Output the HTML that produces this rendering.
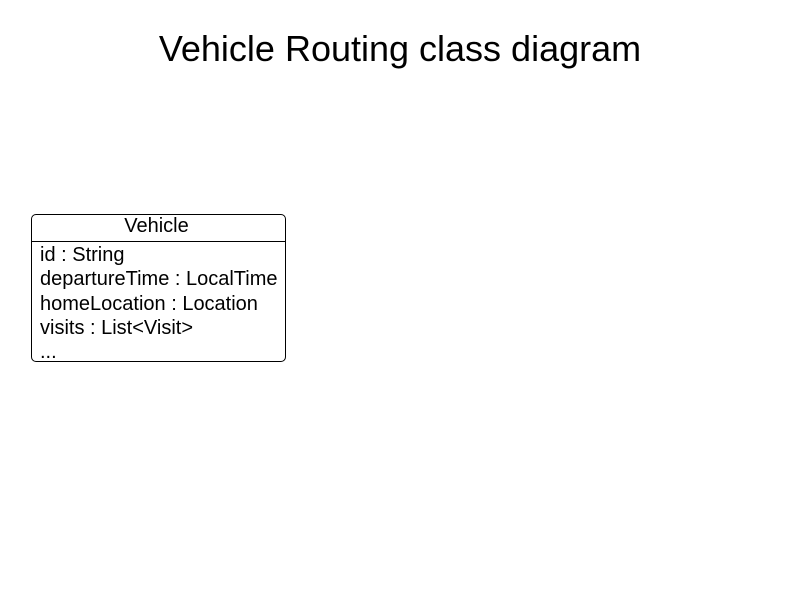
<!DOCTYPE html>
<html><head><style>
body{margin:0;width:800px;height:600px;background:#fff;font-family:"Liberation Sans",sans-serif;position:relative;overflow:hidden}
.t{position:absolute;left:0;width:800px;top:28px;text-align:center;font-size:36px;line-height:42px;color:#000}
.box{position:absolute;left:31px;top:214px;width:253px;height:146px;border:1.3px solid #000;border-radius:5px}
.h{height:27px;border-bottom:1.3px solid #000;text-align:center;font-size:20px;line-height:23px;padding-right:4px;box-sizing:border-box}
.a{padding-left:8px;font-size:20px;line-height:24.3px;padding-top:1px}
</style></head><body>
<div class="t">Vehicle Routing class diagram</div>
<div class="box"><div class="h">Vehicle</div>
<div class="a">id : String<br>departureTime : LocalTime<br>homeLocation : Location<br>visits : List&lt;Visit&gt;<br>...</div></div>
</body></html>
